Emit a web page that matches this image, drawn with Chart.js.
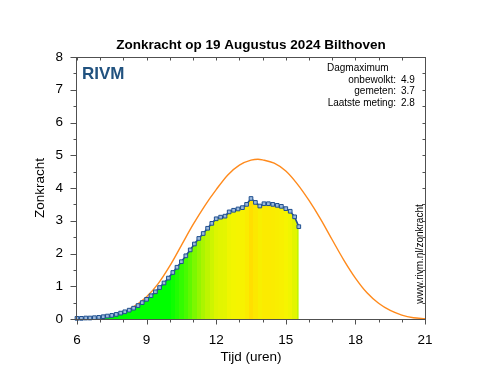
<!DOCTYPE html>
<html><head><meta charset="utf-8">
<script src="https://cdn.jsdelivr.net/npm/chart.js@4.4.1/dist/chart.umd.min.js"></script>
<style>html,body{margin:0;padding:0;background:#fff;overflow:hidden}#wrap{width:502px;height:377px}</style>
</head><body><div id="wrap"><canvas id="c" width="502" height="377"></canvas></div>
<script>
const chartTitle = 'Zonkracht op 19 Augustus 2024 Bilthoven';
const xTitle = 'Tijd (uren)';
const yTitle = 'Zonkracht';
const logoText = 'RIVM';
const sourceText = 'www.rivm.nl/zonkracht';
const infoHeader = 'Dagmaximum';
const infoLabels = ['onbewolkt:', 'gemeten:', 'Laatste meting:'];

const measuredHours = [6.00,6.19,6.38,6.56,6.75,6.94,7.13,7.31,7.50,7.69,7.88,8.06,8.25,8.44,8.63,8.81,9.00,9.19,9.38,9.56,9.75,9.94,10.13,10.31,10.50,10.69,10.88,11.06,11.25,11.44,11.63,11.81,12.00,12.19,12.38,12.56,12.75,12.94,13.13,13.31,13.50,13.69,13.88,14.06,14.25,14.44,14.63,14.81,15.00,15.19,15.38,15.56];
const measuredValues = [0.02,0.02,0.03,0.03,0.04,0.05,0.07,0.09,0.11,0.14,0.18,0.22,0.27,0.33,0.41,0.50,0.60,0.71,0.83,0.96,1.10,1.25,1.42,1.58,1.75,1.93,2.11,2.29,2.46,2.61,2.77,2.92,3.06,3.11,3.14,3.27,3.32,3.36,3.40,3.50,3.68,3.56,3.45,3.52,3.52,3.50,3.47,3.44,3.37,3.29,3.12,2.82];

const clearSkyHours = [6.5,7,7.5,8,8.5,9,9.5,10,10.5,11,11.5,12,12.5,13,13.5,13.8,14,14.5,15,15.5,16,16.5,17,17.5,18,18.5,19,19.5,20,20.5,21];
const clearSkyValues = [0.00,0.03,0.10,0.21,0.40,0.68,1.08,1.62,2.25,2.88,3.45,3.95,4.40,4.70,4.85,4.88,4.86,4.76,4.52,4.12,3.62,3.05,2.42,1.80,1.25,0.80,0.48,0.26,0.12,0.04,0.01];

const xMin = 6, xMax = 21, xStep = 3;
const yMin = 0, yMax = 8, yStep = 1;

const FONT = '"Liberation Sans", Arial, sans-serif';
const colorStops = [[0,[0,255,0]],[1.3,[0,255,0]],[2.0,[80,250,0]],[2.6,[170,245,0]],[3.1,[225,245,0]],[3.35,[245,245,0]],[3.5,[250,236,0]],[3.7,[255,222,0]]];

function uvColor(v){
  if (v <= colorStops[0][0]) return 'rgb(' + colorStops[0][1].join(',') + ')';
  for (let i = 1; i < colorStops.length; i++){
    if (v <= colorStops[i][0]){
      const [v0,c0] = colorStops[i-1], [v1,c1] = colorStops[i];
      const t = (v - v0) / (v1 - v0);
      return 'rgb(' + c0.map((c,k)=>Math.round(c + (c1[k]-c)*t)).join(',') + ')';
    }
  }
  return 'rgb(' + colorStops[colorStops.length-1][1].join(',') + ')';
}
const clamp01 = t => Math.max(0, Math.min(1, t));

function fillGradient(context){
  const chart = context.chart;
  const a = chart.chartArea;
  if (!a) return 'rgb(0,255,0)';
  const xs = chart.scales.x;
  const g = chart.ctx.createLinearGradient(a.left, 0, a.right, 0);
  const w = a.right - a.left;
  const n = measuredHours.length;
  for (let i = 0; i < n; i++){
    const px = xs.getPixelForValue(measuredHours[i]);
    const pl = i > 0 ? (px + xs.getPixelForValue(measuredHours[i-1])) / 2 : px;
    const pr = i < n-1 ? (px + xs.getPixelForValue(measuredHours[i+1])) / 2 : px;
    const c = uvColor(measuredValues[i]);
    g.addColorStop(clamp01((pl - a.left) / w), c);
    g.addColorStop(clamp01((pr - a.left) / w), c);
  }
  return g;
}

const decorPlugin = {
  id: 'decor',
  beforeDraw(chart){
    const ctx = chart.ctx;
    ctx.save(); ctx.fillStyle = '#fff'; ctx.fillRect(0,0,chart.width,chart.height); ctx.restore();
  },
  afterDraw(chart){
    const {ctx, chartArea: a, scales: {x, y}} = chart;
    ctx.save();
    ctx.strokeStyle = '#505050';
    ctx.lineWidth = 1;
    const L = Math.round(a.left) - 0.5, R = Math.round(a.right) + 0.5, T = Math.round(a.top) + 0.5, B = Math.round(a.bottom) + 0.5;
    ctx.strokeRect(L, T, R - L, B - T);
    ctx.beginPath();
    for (let h = xMin; h <= xMax; h += 1){
      const px = Math.round(x.getPixelForValue(h)) + 0.5;
      const len = (h % xStep === 0) ? 5 : 3;
      ctx.moveTo(px, B); ctx.lineTo(px, B + len);
      ctx.moveTo(px, T); ctx.lineTo(px, T + 3);
    }
    for (let v = yMin; v <= yMax; v += 0.5){
      const py = Math.round(y.getPixelForValue(v)) + 0.5;
      const len = (v % yStep === 0) ? 6 : 3;
      ctx.moveTo(L, py); ctx.lineTo(L - len, py);
      ctx.moveTo(R, py); ctx.lineTo(R - 3, py);
    }
    ctx.stroke();

    // logo
    ctx.fillStyle = '#21527f';
    ctx.font = 'bold 17px ' + FONT;
    ctx.textBaseline = 'alphabetic';
    ctx.textAlign = 'left';
    ctx.fillText(logoText, a.left + 5, a.top + 22);

    // info block
    const vals = [Math.max(...clearSkyValues), Math.max(...measuredValues), measuredValues[measuredValues.length-1]].map(v => v.toFixed(1));
    ctx.fillStyle = '#000';
    ctx.font = '10px ' + FONT;
    ctx.textAlign = 'left';
    ctx.fillText(infoHeader, a.right - 98, a.top + 14);
    for (let i = 0; i < infoLabels.length; i++){
      const by = a.top + 14 + 11.7 * (i + 1);
      ctx.textAlign = 'right';
      ctx.fillText(infoLabels[i], a.right - 29, by);
      ctx.textAlign = 'left';
      ctx.fillText(vals[i], a.right - 24, by);
    }

    // source text
    ctx.save();
    ctx.translate(a.right - 2.5, (a.top + a.bottom) / 2 + 66);
    ctx.rotate(-Math.PI / 2);
    ctx.textAlign = 'center';
    ctx.textBaseline = 'alphabetic';
    ctx.font = '10px ' + FONT;
    ctx.fillText(sourceText, 0, 0);
    ctx.restore();
    ctx.restore();
  }
};

new Chart(document.getElementById('c'), {
  type: 'line',
  data: {
    datasets: [
      {
        label: 'gemeten',
        data: measuredHours.map((h, i) => ({x: h, y: measuredValues[i]})),
        borderColor: '#1f4f8f',
        borderWidth: 1.6,
        backgroundColor: fillGradient,
        fill: 'origin',
        tension: 0,
        pointStyle: 'rect',
        pointRadius: 2.6,
        pointBorderWidth: 1,
        pointBorderColor: '#1f4f8f',
        pointBackgroundColor: '#9cb9dc',
        clip: false
      },
      {
        label: 'onbewolkt',
        data: clearSkyHours.map((h, i) => ({x: h, y: clearSkyValues[i]})),
        borderColor: '#ff8a1c',
        borderWidth: 1.4,
        fill: false,
        pointRadius: 0,
        cubicInterpolationMode: 'monotone'
      }
    ]
  },
  options: {
    responsive: false,
    devicePixelRatio: 1,
    animation: false,
    layout: {padding: 0},
    plugins: {
      legend: {display: false},
      tooltip: {enabled: false},
      title: {
        display: true, text: chartTitle, color: '#000',
        font: {family: FONT, size: 13.5, weight: 'bold'},
        padding: {top: 37, bottom: 3.8}
      }
    },
    scales: {
      x: {
        type: 'linear', min: xMin, max: xMax,
        grid: {display: false, drawTicks: false}, border: {display: false},
        ticks: {stepSize: xStep, color: '#000', padding: 13, font: {family: FONT, size: 13.5}, maxRotation: 0},
        title: {display: true, text: xTitle, color: '#000', font: {family: FONT, size: 13.5}, padding: {top: 0, bottom: 12}},
        afterFit(s){ s.height = 58; s.paddingLeft = 0; s.paddingRight = 0; }
      },
      y: {
        type: 'linear', position: 'left', min: yMin, max: yMax,
        grid: {display: false, drawTicks: false}, border: {display: false},
        ticks: {stepSize: yStep, color: '#000', padding: 14, font: {family: FONT, size: 13.5}},
        title: {display: true, text: yTitle, color: '#000', font: {family: FONT, size: 13.5}, padding: {top: 32, bottom: 0}},
        afterFit(s){ s.width = 77; s.paddingTop = 0; s.paddingBottom = 0; }
      },
      y2: {
        type: 'linear', position: 'right', min: yMin, max: yMax, display: true,
        grid: {display: false, drawTicks: false}, border: {display: false},
        ticks: {display: false},
        afterFit(s){ s.width = 77; s.paddingTop = 0; s.paddingBottom = 0; }
      }
    }
  },
  plugins: [decorPlugin]
});
</script></body></html>
